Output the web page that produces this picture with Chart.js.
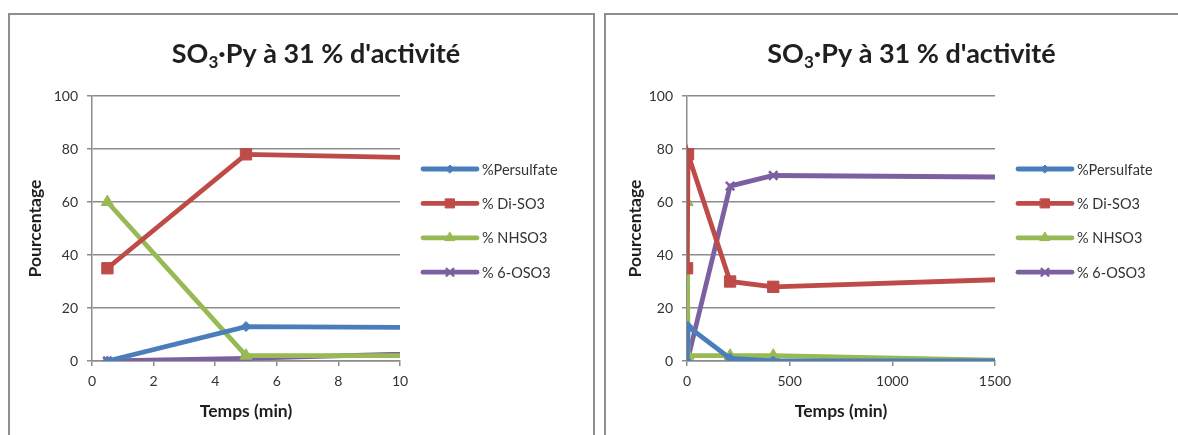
<!DOCTYPE html>
<html lang="fr">
<head>
<meta charset="UTF-8">
<title>SO3·Py à 31 % d'activité</title>
<script src="https://cdn.jsdelivr.net/npm/chart.js"></script>
<style>
  body { margin: 0; background: #fff; width: 1178px; height: 435px; overflow: hidden; position: relative; }
  .frame { position: absolute; border: 2px solid #8e8e8e; }
  #frameLeft { left: 8px; top: 13px; width: 583px; height: 440px; }
  #frameRight { left: 604px; top: 13px; width: 600px; height: 440px; }
  canvas { position: absolute; top: 0; }
  #chartLeft { left: 0; }
  #chartRight { left: 600px; }
</style>
</head>
<body>
<div class="frame" id="frameLeft"></div>
<div class="frame" id="frameRight"></div>
<canvas id="chartLeft" width="600" height="435"></canvas>
<canvas id="chartRight" width="578" height="435"></canvas>

<script>
// données (temps en min, pourcentages)
const temps = [0.5, 5, 210, 420, 1560];
const persulfate = [0, 13, 1, 0, 0];
const diSO3 = [35, 78, 30, 28, 30.8];
const nhso3 = [60, 2, 2, 2, 0.2];
const oso3 = [0, 1, 66, 70, 69.4];
const seriesLabels = ['%Persulfate', '% Di-SO3', '% NHSO3', '% 6-OSO3'];
const yTicks = [0, 20, 40, 60, 80, 100];
const xTicksLeft = [0, 2, 4, 6, 8, 10];
const xTicksRight = [0, 500, 1000, 1500];

const couleurs = ['#4a7ebb', '#be4b48', '#98b954', '#7d60a0'];
const marqueurs = ['rectRot', 'rect', 'triangle', 'crossRot'];
const rayons = [5, 8, 7, 6];
const fontFamily = 'Lato, "Open Sans", sans-serif';
const gris = '#8c8c8c';
const texte = '#333333';

function points(ys) {
    return temps.map((t, i) => ({ x: t, y: ys[i] }));
}

function makeDatasets() {
    return [persulfate, diSO3, nhso3, oso3].map((serie, i) => ({
        label: seriesLabels[i],
        data: points(serie),
        borderColor: couleurs[i],
        backgroundColor: couleurs[i],
        borderWidth: 4.8,
        pointStyle: marqueurs[i],
        pointRadius: rayons[i],
        pointBorderWidth: i === 3 ? 2.5 : 1,
        tension: 0
    }));
}

// titre avec indice (SO3)
const titrePlugin = {
    id: 'titre',
    afterDraw(chart, args, opts) {
        const ctx = chart.ctx;
        const parts = [
            { t: 'SO', f: 'bold 27px ' + fontFamily, dy: 0 },
            { t: '3', f: 'bold 17px ' + fontFamily, dy: 5 },
            { t: '\u00b7Py \u00e0 31 % d\'activit\u00e9', f: 'bold 27px ' + fontFamily, dy: 0 }
        ];
        ctx.save();
        ctx.fillStyle = '#1f1f1f';
        ctx.textBaseline = 'alphabetic';
        let total = 0;
        parts.forEach(p => { ctx.font = p.f; p.w = ctx.measureText(p.t).width; total += p.w; });
        let x = opts.x - total / 2;
        parts.forEach(p => {
            ctx.font = p.f;
            ctx.fillText(p.t, x, opts.y + p.dy);
            x += p.w;
        });
        ctx.restore();
    }
};

// légende à droite : ligne + marqueur
const legendePlugin = {
    id: 'legende',
    afterDraw(chart) {
        const ctx = chart.ctx;
        const area = chart.chartArea;
        const x0 = area.right + 23;
        ctx.save();
        chart.data.datasets.forEach((ds, i) => {
            const y = area.top + 73 + i * 34.4;
            ctx.strokeStyle = ds.borderColor;
            ctx.lineWidth = 4.8;
            ctx.lineCap = 'round';
            ctx.beginPath();
            ctx.moveTo(x0, y);
            ctx.lineTo(x0 + 54, y);
            ctx.stroke();
            ctx.fillStyle = ds.backgroundColor;
            ctx.strokeStyle = ds.borderColor;
            ctx.lineWidth = ds.pointBorderWidth;
            Chart.helpers.drawPoint(ctx, {
                pointStyle: ds.pointStyle,
                radius: ds.pointRadius * 0.8,
                rotation: 0,
                borderWidth: ds.pointBorderWidth
            }, x0 + 27, y);
            ctx.fillStyle = texte;
            ctx.font = '14.5px ' + fontFamily;
            ctx.textBaseline = 'middle';
            ctx.fillText(ds.label, x0 + 59, y + 1);
        });
        ctx.restore();
    }
};

function makeChart(id, xMax, xTicks, yAxisWidth, padRight, titreX) {
    const ctx = document.getElementById(id).getContext('2d');
    return new Chart(ctx, {
        type: 'line',
        data: { datasets: makeDatasets() },
        plugins: [titrePlugin, legendePlugin],
        options: {
            responsive: false,
            animation: false,
            devicePixelRatio: 1,
            layout: { padding: { left: 0, top: 96, right: padRight, bottom: 0 } },
            plugins: {
                legend: { display: false },
                tooltip: { enabled: false },
                titre: { x: titreX, y: 63 }
            },
            scales: {
                x: {
                    type: 'linear',
                    min: 0,
                    max: xMax,
                    afterBuildTicks: scale => { scale.ticks = xTicks.map(v => ({ value: v })); },
                    afterFit: scale => { scale.height = 74; },
                    grid: { drawOnChartArea: false, drawTicks: true, tickLength: 5, color: gris, lineWidth: 1.5 },
                    border: { display: true, color: gris, width: 1.5 },
                    ticks: { color: texte, font: { family: fontFamily, size: 14 }, padding: 7, maxRotation: 0, callback: v => String(v) },
                    title: { display: true, text: 'Temps (min)', color: '#1f1f1f', font: { family: fontFamily, size: 17.5, weight: 'bold' }, padding: { top: 0, bottom: 13 } }
                },
                y: {
                    min: 0,
                    max: 100,
                    afterBuildTicks: scale => { scale.ticks = yTicks.map(v => ({ value: v })); },
                    afterFit: scale => { scale.width = yAxisWidth; },
                    grid: { drawTicks: true, tickLength: 5, color: gris, lineWidth: 1.5 },
                    border: { display: true, color: gris, width: 1.5 },
                    ticks: { color: texte, font: { family: fontFamily, size: 14 }, padding: 9, callback: v => String(v) },
                    title: { display: true, text: 'Pourcentage', color: '#1f1f1f', font: { family: fontFamily, size: 17.5, weight: 'bold' }, padding: { top: 25, bottom: 0 } }
                }
            }
        }
    });
}

window.onload = function () {
    makeChart('chartLeft', 10, xTicksLeft, 92, 200, 316);
    makeChart('chartRight', 1500, xTicksRight, 87, 183, 311.5);
};
</script>
</body>
</html>
